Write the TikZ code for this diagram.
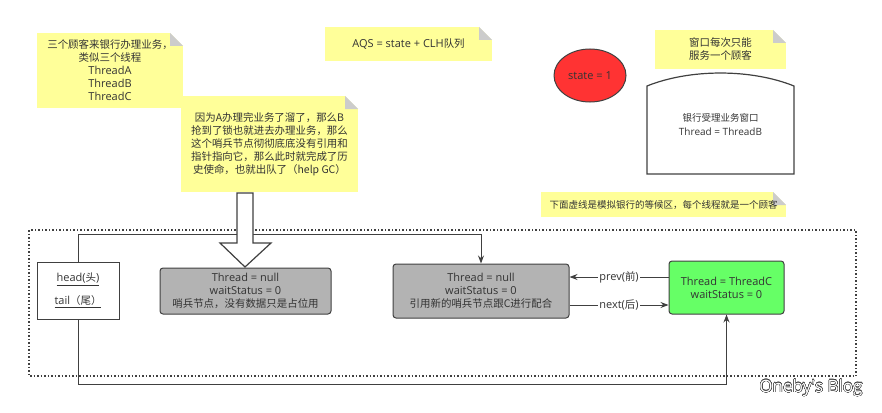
\documentclass[tikz,border=0pt]{standalone}
\usepackage{fontspec}
\usepackage[copies]{contour}
\setmainfont{Open Sans}
\newfontfamily\cjk[Scale=0.95]{Noto Sans CJK SC}
\usetikzlibrary{shapes.geometric,arrows.meta}
\definecolor{notey}{HTML}{FFFF99}
\definecolor{foldg}{HTML}{CCCCCC}
\definecolor{txt}{HTML}{333333}
\definecolor{edge}{HTML}{404040}
\definecolor{nodegray}{HTML}{B3B3B3}
\definecolor{nodegreen}{HTML}{66FF66}
\definecolor{statered}{HTML}{FF3333}
\contourlength{0.3pt}
\contournumber{24}
\tikzset{
  note/.style={fill=notey, inner sep=0pt, align=center, text=txt,
    path picture={
      \fill[white] ([xshift=-13pt]path picture bounding box.north east) -- (path picture bounding box.north east) -- ([yshift=-13pt]path picture bounding box.north east) -- cycle;
      \fill[foldg] ([xshift=-13pt]path picture bounding box.north east) -- ([xshift=-13pt,yshift=-13pt]path picture bounding box.north east) -- ([yshift=-13pt]path picture bounding box.north east) -- cycle;
    }},
  qnode/.style={draw=edge, line width=1pt, rounded corners=3pt, align=center, inner sep=0pt, text=txt},
  link/.style={draw=edge, line width=1pt, -{Stealth[length=8pt,width=6pt]}},
  lbl/.style={fill=white, inner sep=1pt, text=txt}
}
\begin{document}
\begin{tikzpicture}[x=1pt, y=-1pt, font=\fontsize{11}{13}\selectfont]
\useasboundingbox (0,0) rectangle (882,412);
% waiting area
\draw[edge, line width=1.2pt, dash pattern=on 1.5pt off 2pt] (29,230) rectangle (856,376);
% notes
\node[note, minimum width=146, minimum height=75] (N1) at (110,70.5) {{\cjk 三个顾客来银行办理业务，}\\{\cjk 类似三个线程}\\ThreadA\\ThreadB\\ThreadC};
\node[note, minimum width=177, minimum height=96] (N2) at (269.5,144) {\cjk 因为A办理完业务了溜了，那么B\\\cjk 抢到了锁也就进去办理业务，那么\\\cjk 这个哨兵节点彻彻底底没有引用和\\\cjk 指针指向它，那么此时就完成了历\\\cjk 史使命，也就出队了（help GC）};
\node[note, minimum width=167, minimum height=34] (AQS) at (408.5,44) {AQS = state + CLH{\cjk 队列}};
\node[note, minimum width=131, minimum height=39] (N4) at (720.5,49.5) {\cjk 窗口每次只能\\\cjk 服务一个顾客};
\node[note, minimum width=245, minimum height=25, font=\fontsize{10}{13}\selectfont] (N5) at (663.5,204.5) {\cjk 下面虚线是模拟银行的等候区，每个线程就是一个顾客};
% state and window
\node[ellipse, draw=edge, line width=1pt, fill=statered, text=txt, minimum width=72, minimum height=53, inner sep=0pt] (ST) at (590,75.5) {state = 1};
\draw[edge, line width=1.2pt] (647,174) -- (647,86) .. controls (690,68.7) and (751,68.7) .. (794,86) -- (794,174) -- cycle;
\node[align=center, text=txt, font=\fontsize{10}{14}\selectfont] (WIN) at (720.5,125) {{\cjk 银行受理业务窗口}\\Thread = ThreadB};
% queue
\node[qnode, rounded corners=0pt, minimum width=82, minimum height=57] (HT) at (78,290.5) {\underline{head({\cjk 头})}\\[10pt]\underline{tail{\cjk （尾）}}};
\node[qnode, fill=nodegray, minimum width=171, minimum height=46] (S1) at (245.5,291) {Thread = null\\waitStatus = 0\\{\cjk 哨兵节点，没有数据只是占位用}};
\node[qnode, fill=nodegray, minimum width=176, minimum height=54] (S2) at (481,291) {Thread = null\\waitStatus = 0\\{\cjk 引用新的哨兵节点跟C进行配合}};
\node[qnode, fill=nodegreen, minimum width=115, minimum height=53] (TC) at (726.5,287.5) {Thread = ThreadC\\waitStatus = 0};
\draw[link] (HT.north) -- ++(0,-27) -| (S2.north);
\draw[link] (HT.south) -- ++(0,65) -| (TC.south);
\draw[link] ([yshift=10.5pt]TC.west) -- node[lbl] {prev({\cjk 前})} ([yshift=14pt]S2.east);
\draw[link] ([yshift=-14pt]S2.east) -- node[lbl] {next({\cjk 后})} ([yshift=-17.5pt]TC.west);
% hollow arrow
\draw[edge, line width=1.2pt, fill=white] (237,193) -- (253,193) -- (253,243) -- (271,243) -- (245,267) -- (220,243) -- (237,243) -- cycle;
\node[font=\fontsize{17}{17}\selectfont] (BLOG) at (811,388) {\contour{edge}{\textcolor{white}{Oneby\textquotesingle s Blog}}};
\end{tikzpicture}
\end{document}
